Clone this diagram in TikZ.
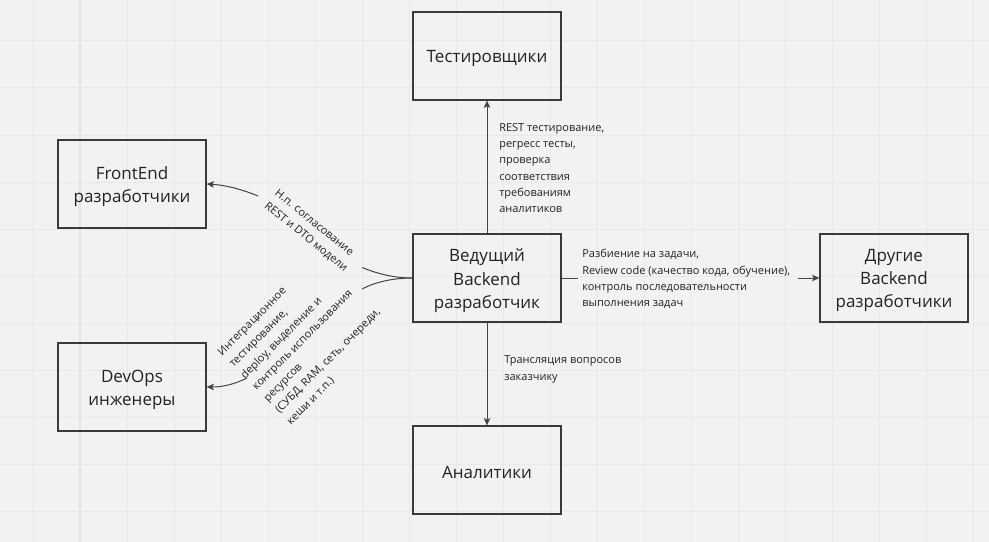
\documentclass[tikz,border=0pt]{standalone}
\usepackage{fontspec}
\setmainfont{Open Sans}
\usetikzlibrary{arrows.meta}
\definecolor{bgc}{HTML}{F2F2F2}
\definecolor{gridc}{HTML}{E8E8E8}
\definecolor{gridd}{HTML}{E2E2E2}
\definecolor{boxc}{HTML}{3A3A3A}
\definecolor{linec}{HTML}{444444}
\definecolor{txtc}{HTML}{222222}
\tikzset{
  box/.style={draw=boxc, line width=0.85pt, minimum width=111pt, minimum height=66pt, inner sep=0pt},
  boxtext/.style={inner sep=0pt, align=center, text=txtc, yshift=-2pt, font=\fontsize{12.75pt}{17.3pt}\selectfont},
  conn/.style={draw=linec, line width=0.75pt},
  tip/.style={-{Stealth[length=5.5pt,width=4.8pt,inset=1.2pt]}},
  lbl/.style={inner sep=0pt, align=left, text=txtc, font=\fontsize{8.25pt}{12.2pt}\selectfont}
}
\begin{document}
\begin{tikzpicture}[x=0.75pt,y=-0.75pt]
\useasboundingbox (0,0) rectangle (989,542);
\fill[bgc] (0,0) rectangle (989,542);
\foreach \x in {33,127,174,...,986} \draw[gridc,line width=0.75pt] (\x,0) -- (\x,542);
\draw[gridd,line width=0.9pt] (80,0) -- (80,542);
\foreach \y in {41,88,...,541} \draw[gridc,line width=0.75pt] (0,\y) -- (989,\y);

\node[box, label={[boxtext]center:Тестировщики}] (test) at (487,56) {};
\node[box, label={[boxtext]center:{FrontEnd\\разработчики}}] (fe) at (132,184) {};
\node[box, label={[boxtext]center:{Ведущий\\Backend\\разработчик}}] (lead) at (487,278) {};
\node[box, label={[boxtext]center:{Другие\\Backend\\разработчики}}] (other) at (894,278) {};
\node[box, label={[boxtext]center:{DevOps\\инженеры}}] (devops) at (132,387) {};
\node[box, label={[boxtext]center:Аналитики}] (anal) at (487,470) {};

% up
\draw[conn,tip] (lead.north) -- (test.south);
\node[lbl,anchor=west] (ltest) at (499,168) {REST тестирование,\\регресс тесты,\\проверка\\соответствия\\требованиям\\аналитиков};
% down
\draw[conn,tip] (lead.south) -- (anal.north);
\node[lbl,anchor=west] (lanal) at (504,369.5) {Трансляция вопросов\\заказчику};
% right
\coordinate (r1) at (578,278);
\coordinate (r2) at (798,278);
\draw[conn] (lead.east) -- (r1);
\draw[conn,tip] (r2) -- (other.west);
\node[lbl,anchor=west] (lother) at (582,279) {Разбиение на задачи,\\Review code (качество кода, обучение),\\контроль последовательности\\выполнения задач};
% frontend curve
\coordinate (fe1) at (362,267.5);
\coordinate (fe2) at (258,196);
\draw[conn] (lead.west) .. controls (394.7,278) and (379.1,274.3) .. (fe1);
\draw[conn,tip] (fe2) .. controls (240.2,188.7) and (224.5,185) .. (fe.east);
\node[lbl,rotate=-39] (lfe) at (311,231) {Н.п. согласование\\REST и DTO модели};
% devops curve
\coordinate (do1) at (362,289);
\coordinate (do2) at (247,378);
\draw[conn] (lead.west) .. controls (391.9,278) and (374.6,282.4) .. (do1);
\draw[conn,tip] (do2) .. controls (236,383.5) and (224.1,387) .. (devops.east);
\node[lbl,rotate=45] (ldo) at (305,338) {Интеграционное\\тестирование,\\deploy, выделение и\\контроль использования\\ресурсов\\(СУБД, RAM, сеть, очереди,\\кеши и т.п.)};
\end{tikzpicture}
\end{document}
